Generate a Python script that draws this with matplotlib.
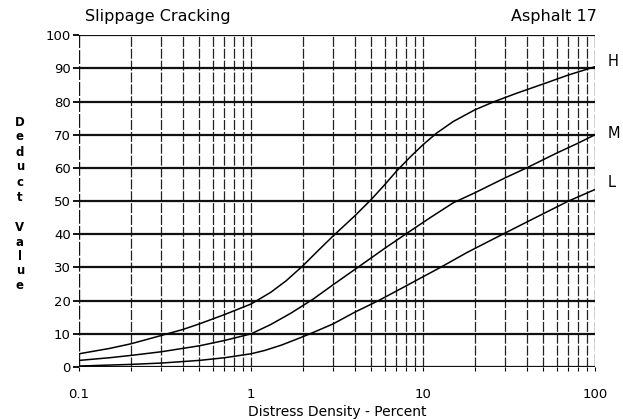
import numpy as np
import matplotlib
matplotlib.use('Agg')
from matplotlib import pyplot as plt
from matplotlib.ticker import FixedLocator, NullFormatter

# values
h_x = [0.1, 0.15, 0.2, 0.3, 0.4, 0.5, 0.7, 1, 1.3, 1.6, 2, 2.5, 3, 4, 5, 6, 7, 8.5,
       10, 12, 15, 20, 26, 35, 50, 70, 100]
h_y = [4, 5.6, 7, 9.5, 11.3, 13, 15.8, 19, 22.5, 26, 30.5, 35.5, 39.5, 45.5, 50.5, 55, 59, 63.5,
       67, 70.5, 74, 77.5, 80, 82.5, 85.3, 88, 90.5]

m_x = [0.1, 0.15, 0.2, 0.3, 0.5, 0.7, 1, 1.3, 1.7, 2.3, 3, 4.3, 6, 8, 11, 15, 20, 30, 40, 60, 80, 100]
m_y = [2, 2.8, 3.5, 4.6, 6.4, 8, 10, 12.8, 16.2, 20.5, 24.8, 30.5, 35.8, 40.2, 45, 49.5, 52.5, 57, 60,
       64.5, 67.5, 70]

l_x = [0.1, 0.2, 0.3, 0.5, 0.7, 1, 1.2, 1.5, 1.8, 2.2, 3, 4, 5.5, 8, 12.6, 18, 29, 45, 70, 100]
l_y = [0.3, 0.8, 1.2, 2, 2.8, 4, 5, 6.6, 8.2, 10, 13, 16.5, 20, 24.5, 30, 34.5, 40, 45, 50, 53.5]

curve_names = ['H', 'M', 'L']
label_y = [92, 70.5, 55.5]
x_ticks = [0.1, 1, 10, 100]
x_ticklabels = ['0.1', '1', '10', '100']
y_ticks = list(range(0, 101, 10))
ylabel_letters = list('Deduct') + [''] + list('Value')

plt.rcParams['font.family'] = ['DejaVu Sans']

fig = plt.figure(figsize=(6.23, 4.19), dpi=100)
ax = fig.add_axes([0.127, 0.124, 0.828, 0.792])

ax.set_xscale('log')
ax.set_xlim(0.1, 100)
ax.set_ylim(0, 100)

# vertical grid: broken lines at every log division
minor_pos = [m * 10.0 ** e for e in (-1, 0, 1) for m in range(2, 10)]
for xv in minor_pos + [1, 10]:
    ax.axvline(xv, color='#222222', lw=0.9, ls=(0, (8, 1.5)), zorder=1)
for xv in [0.1, 100]:
    ax.axvline(xv, color='#111111', lw=1.0, ls=(0, (10, 1.5)), zorder=1)
# horizontal grid: solid
for yv in y_ticks:
    ax.axhline(yv, color='#111111', lw=1.6, zorder=1)

for xs, ys in [(h_x, h_y), (m_x, m_y), (l_x, l_y)]:
    ax.plot(xs, ys, color='black', lw=1.1, zorder=3)

for name, yv in zip(curve_names, label_y):
    ax.text(1.025, yv, name, transform=ax.get_yaxis_transform(),
            fontsize=10.5, va='center', ha='left')

for s in ax.spines.values():
    s.set_visible(False)

ax.xaxis.set_major_locator(FixedLocator(x_ticks))
ax.set_xticklabels(x_ticklabels)
ax.xaxis.set_minor_locator(FixedLocator(minor_pos))
ax.xaxis.set_minor_formatter(NullFormatter())
ax.set_yticks(y_ticks)
ax.tick_params(axis='x', which='both', length=3, width=0.8, pad=12, labelsize=9.5)
ax.tick_params(axis='y', which='both', length=4, width=1.3, pad=2, labelsize=9.5)

ax.set_xlabel('Distress Density - Percent', fontsize=10, labelpad=3)

# stacked y label
ylab_pos = [122, 137, 152, 167, 182, 197, 212, 227, 242, 256, 270, 285]
for ch, yp in zip(ylabel_letters, ylab_pos):
    if ch:
        fig.text(20 / 623, 1 - yp / 419, ch, fontsize=8.5, ha='center', va='center',
                 weight='bold')

fig.text(85 / 623, 1 - 17 / 419, 'Slippage Cracking', fontsize=11.5, ha='left', va='center')
fig.text(597 / 623, 1 - 17 / 419, 'Asphalt 17', fontsize=11.5, ha='right', va='center')

fig.savefig('out.png', dpi=100)
